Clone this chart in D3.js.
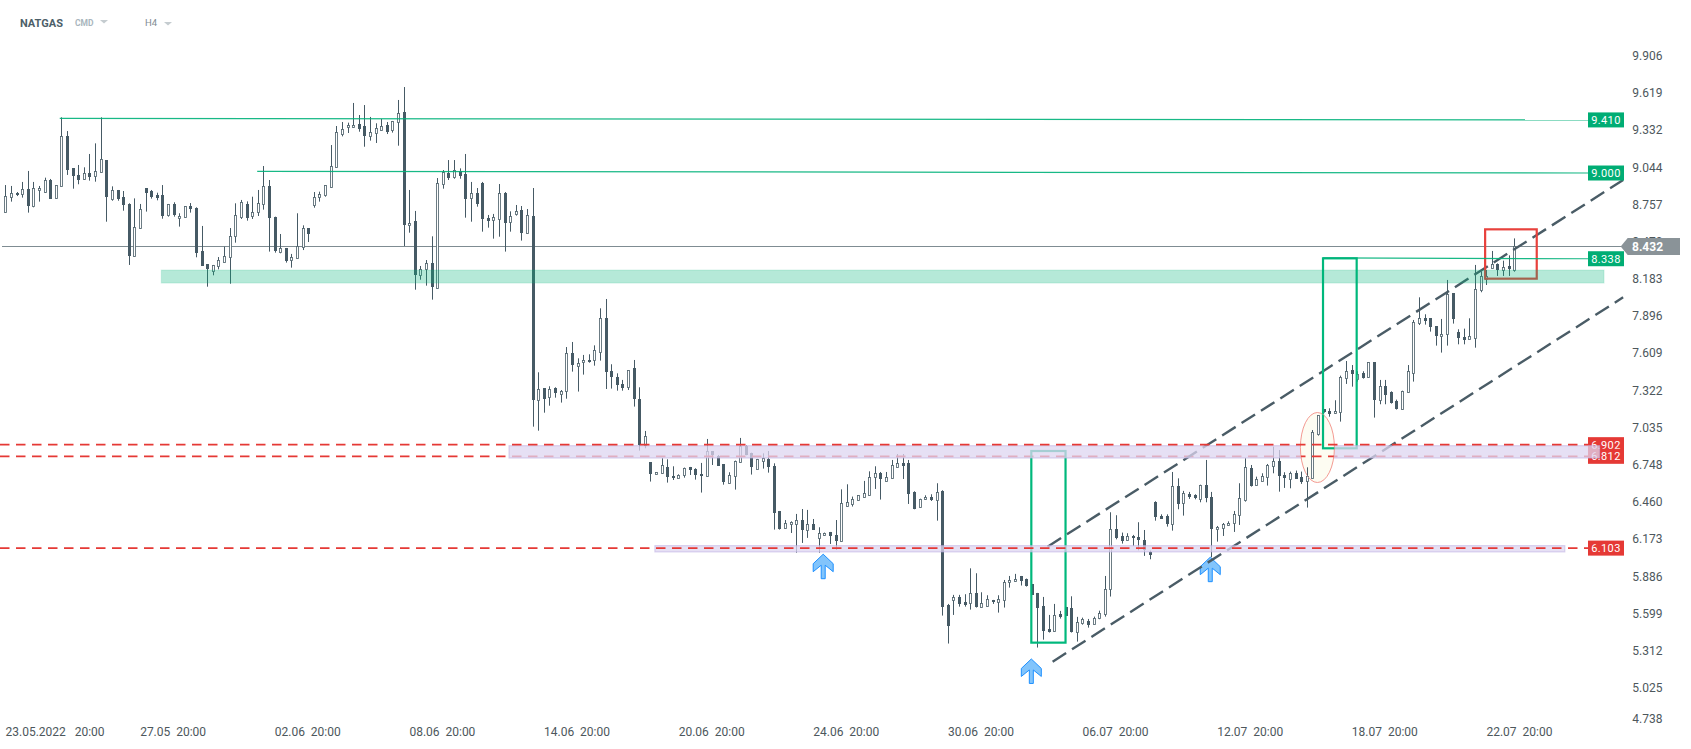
<!DOCTYPE html>
<html>
<head>
<meta charset="utf-8">
<script src="https://cdn.jsdelivr.net/npm/d3@7"></script>
<style>
  html, body { margin: 0; background: #fff; }
  svg { display: block; font-family: Roboto, sans-serif; }
  .tick text { white-space: pre; }
</style>
</head>
<body>
<div id="chart"></div>
<script>
// 4h candles
const opens = [
  8.696,8.812,8.843,8.833,8.874,8.740,8.866,8.851,8.946,8.802,
  8.897,9.286,9.036,8.985,8.949,8.998,8.974,9.005,9.100,8.797,
  8.869,8.815,8.761,8.354,8.570,8.884,8.861,8.830,8.830,8.671,
  8.761,8.650,8.658,8.745,8.730,8.398,8.295,8.238,8.277,8.315,
  8.349,8.508,8.663,8.761,8.663,8.696,8.758,8.897,8.660,8.385,
  8.421,8.326,8.339,8.426,8.575,8.756,8.810,8.825,8.887,9.041,
  9.304,9.350,9.350,9.376,9.363,9.281,9.304,9.327,9.371,9.327,
  9.389,9.473,8.593,8.627,8.215,8.256,8.303,8.107,8.913,8.997,
  8.964,9.018,8.990,8.802,8.843,8.920,8.650,8.632,8.640,8.843,
  8.616,8.678,8.712,8.532,8.666,7.242,7.337,7.265,7.337,7.296,
  7.312,7.608,7.512,7.535,7.553,7.551,7.615,7.878,7.471,7.422,
  7.371,7.342,7.492,7.252,6.894,6.766,6.673,6.678,6.727,6.658,
  6.650,6.663,6.727,6.712,6.673,6.655,6.851,6.817,6.750,6.601,
  6.658,6.766,6.892,6.835,6.717,6.779,6.789,6.735,6.390,6.254,
  6.287,6.285,6.318,6.238,6.290,6.182,6.202,6.225,6.202,6.153,
  6.429,6.439,6.470,6.493,6.508,6.647,6.681,6.617,6.640,6.730,
  6.761,6.761,6.537,6.416,6.478,6.496,6.470,6.545,5.664,5.698,
  5.723,5.685,5.677,5.754,5.646,5.654,5.700,5.682,5.698,5.837,
  5.844,5.888,5.862,5.826,5.757,5.656,5.476,5.458,5.592,5.649,
  5.638,5.453,5.520,5.541,5.520,5.559,5.590,5.785,6.249,6.197,
  6.164,6.194,6.187,6.164,6.073,6.460,6.351,6.349,6.285,6.581,
  6.449,6.519,6.511,6.485,6.588,6.496,6.249,6.254,6.277,6.292,
  6.354,6.475,6.720,6.586,6.622,6.655,6.732,6.774,6.668,6.640,
  6.686,6.652,6.617,6.645,6.985,7.175,7.162,7.142,7.152,7.412,
  7.476,7.415,7.453,7.420,7.538,7.242,7.355,7.306,7.237,7.173,
  7.304,7.453,7.837,7.878,7.878,7.816,7.736,7.752,8.071,7.770,
  7.731,7.716,7.723,8.097,8.187,8.266,8.297,8.251,8.279,8.251
];
const highs = [
  8.907,8.900,8.853,8.931,9.016,8.931,8.900,8.964,8.954,8.905,
  9.430,9.324,9.036,9.062,9.044,9.147,9.229,9.430,9.100,8.897,
  8.869,8.861,8.766,8.804,8.761,8.884,8.869,8.848,8.907,8.761,
  8.774,8.689,8.745,8.768,8.735,8.591,8.295,8.290,8.351,8.431,
  8.575,8.766,8.792,8.781,8.817,8.869,9.054,8.946,8.663,8.529,
  8.421,8.375,8.689,8.596,8.575,8.853,8.856,8.905,9.216,9.363,
  9.394,9.389,9.541,9.448,9.525,9.433,9.384,9.417,9.394,9.402,
  9.564,9.664,8.869,8.707,8.282,8.328,8.511,8.961,9.023,9.100,
  9.100,9.036,9.147,8.931,8.884,8.931,8.676,8.684,8.915,8.853,
  8.704,8.753,8.745,8.722,8.884,7.461,7.337,7.353,7.345,7.324,
  7.656,7.695,7.569,7.595,7.600,7.669,7.955,8.027,7.523,7.453,
  7.402,7.476,7.556,7.345,7.008,6.766,6.689,6.797,6.789,6.735,
  6.673,6.725,6.730,6.720,6.761,6.946,6.853,6.822,6.750,6.689,
  6.779,6.954,6.897,6.840,6.792,6.835,6.853,6.758,6.390,6.320,
  6.310,6.367,6.405,6.398,6.328,6.264,6.223,6.228,6.320,6.557,
  6.596,6.501,6.511,6.622,6.696,6.735,6.691,6.691,6.784,6.830,
  6.830,6.784,6.542,6.485,6.511,6.519,6.604,6.550,5.672,5.742,
  5.742,5.747,5.947,5.909,5.762,5.739,5.703,5.739,5.857,5.888,
  5.904,5.888,5.868,5.826,5.757,5.726,5.587,5.672,5.618,5.649,
  5.731,5.572,5.566,5.556,5.574,5.620,5.888,6.380,6.357,6.223,
  6.218,6.205,6.303,6.243,6.084,6.465,6.364,6.364,6.691,6.642,
  6.545,6.537,6.519,6.593,6.784,6.537,6.274,6.297,6.310,6.390,
  6.604,6.797,6.745,6.655,6.681,6.753,6.887,6.861,6.689,6.694,
  6.702,6.694,6.727,7.015,7.129,7.175,7.183,7.245,7.435,7.548,
  7.517,7.469,7.469,7.538,7.538,7.402,7.402,7.314,7.250,7.319,
  7.517,7.865,8.040,7.909,7.878,7.816,7.873,8.174,8.071,7.793,
  7.798,7.878,8.290,8.241,8.251,8.398,8.302,8.323,8.364,8.495
];
const lows = [
  8.696,8.779,8.822,8.810,8.694,8.735,8.779,8.846,8.802,8.802,
  8.897,8.985,8.879,8.913,8.946,8.941,8.933,9.003,8.624,8.786,
  8.786,8.709,8.290,8.354,8.570,8.702,8.802,8.789,8.647,8.663,
  8.663,8.586,8.655,8.694,8.349,8.285,8.122,8.210,8.256,8.315,
  8.145,8.462,8.645,8.632,8.645,8.668,8.717,8.393,8.385,8.380,
  8.308,8.269,8.339,8.405,8.467,8.732,8.779,8.817,8.887,9.041,
  9.283,9.309,9.350,9.319,9.203,9.250,9.232,9.327,9.301,9.312,
  9.211,8.436,8.539,8.099,8.176,8.130,8.022,8.107,8.879,8.946,
  8.956,8.956,8.655,8.624,8.740,8.547,8.578,8.493,8.508,8.393,
  8.547,8.671,8.478,8.532,7.041,7.010,7.149,7.203,7.265,7.227,
  7.257,7.466,7.312,7.443,7.535,7.512,7.551,7.332,7.335,7.319,
  7.319,7.324,7.196,6.856,6.874,6.617,6.673,6.678,6.609,6.629,
  6.647,6.647,6.668,6.632,6.532,6.655,6.745,6.740,6.593,6.601,
  6.555,6.763,6.820,6.671,6.717,6.717,6.686,6.246,6.246,6.254,
  6.220,6.068,6.143,6.182,6.243,6.068,6.197,6.135,6.089,6.153,
  6.424,6.424,6.470,6.493,6.508,6.560,6.478,6.617,6.640,6.725,
  6.637,6.444,6.403,6.416,6.475,6.467,6.315,5.582,5.366,5.587,
  5.651,5.651,5.628,5.644,5.644,5.651,5.672,5.605,5.644,5.798,
  5.844,5.814,5.806,5.744,5.335,5.396,5.451,5.458,5.559,5.582,
  5.451,5.381,5.512,5.489,5.520,5.554,5.574,5.729,6.171,6.138,
  6.161,6.120,6.086,6.043,6.017,6.315,6.331,6.269,6.238,6.403,
  6.354,6.483,6.480,6.457,6.457,6.032,6.153,6.197,6.274,6.228,
  6.282,6.462,6.578,6.586,6.622,6.586,6.681,6.539,6.568,6.565,
  6.637,6.599,6.416,6.642,6.972,7.149,7.118,7.139,7.080,7.371,
  7.350,7.389,7.412,7.420,7.111,7.214,7.214,7.219,7.173,7.173,
  7.304,7.389,7.826,7.829,7.775,7.667,7.613,7.667,7.837,7.677,
  7.677,7.716,7.651,8.079,8.135,8.264,8.205,8.205,8.205,8.238
];
const closes = [
  8.822,8.843,8.825,8.874,8.740,8.882,8.884,8.943,8.802,8.905,
  9.286,9.026,8.977,8.949,8.998,8.964,9.013,9.106,8.817,8.866,
  8.799,8.756,8.362,8.581,8.720,8.848,8.817,8.810,8.671,8.758,
  8.676,8.668,8.743,8.725,8.385,8.285,8.259,8.287,8.326,8.359,
  8.511,8.673,8.776,8.653,8.696,8.766,8.897,8.647,8.400,8.418,
  8.323,8.351,8.434,8.573,8.532,8.815,8.835,8.905,9.052,9.314,
  9.340,9.368,9.368,9.340,9.286,9.314,9.345,9.360,9.314,9.399,
  9.461,8.601,8.612,8.207,8.261,8.303,8.115,8.920,9.005,8.961,
  9.021,8.979,8.794,8.843,8.756,8.640,8.630,8.658,8.843,8.609,
  8.665,8.704,8.532,8.673,7.242,7.330,7.250,7.330,7.296,7.319,
  7.608,7.512,7.535,7.553,7.535,7.631,7.878,7.458,7.427,7.358,
  7.340,7.476,7.250,6.900,6.967,6.671,6.689,6.743,6.647,6.640,
  6.671,6.720,6.701,6.663,6.655,6.851,6.817,6.740,6.609,6.666,
  6.774,6.892,6.820,6.725,6.792,6.799,6.725,6.369,6.251,6.295,
  6.302,6.318,6.238,6.287,6.246,6.218,6.218,6.192,6.153,6.449,
  6.457,6.480,6.511,6.526,6.650,6.681,6.632,6.650,6.743,6.758,
  6.740,6.524,6.408,6.480,6.496,6.475,6.534,5.651,5.505,5.723,
  5.672,5.664,5.754,5.649,5.677,5.708,5.682,5.708,5.839,5.855,
  5.862,5.850,5.811,5.744,5.641,5.466,5.451,5.584,5.572,5.582,
  5.451,5.530,5.554,5.512,5.564,5.600,5.785,6.249,6.176,6.161,
  6.194,6.179,6.161,6.086,6.048,6.346,6.331,6.290,6.581,6.439,
  6.527,6.498,6.485,6.593,6.485,6.246,6.264,6.287,6.295,6.364,
  6.488,6.727,6.578,6.635,6.660,6.745,6.774,6.655,6.648,6.686,
  6.637,6.614,6.658,6.997,7.129,7.149,7.137,7.160,7.425,7.469,
  7.443,7.451,7.417,7.538,7.242,7.353,7.288,7.224,7.173,7.314,
  7.469,7.847,7.878,7.855,7.806,7.736,7.754,8.063,7.870,7.721,
  7.705,7.739,8.102,8.202,8.207,8.295,8.251,8.272,8.254,8.439
];

const priceTicks = [9.906,9.619,9.332,9.044,8.757,8.470,8.183,7.896,7.609,7.322,7.035,6.748,6.460,6.173,5.886,5.599,5.312,5.025,4.738];
const dateTicks = [6,30,54,78,102,126,150,174,198,222,246,270];
const dateLabels = ['23.05.2022   20:00','27.05  20:00','02.06  20:00','08.06  20:00','14.06  20:00','20.06  20:00','24.06  20:00','30.06  20:00','06.07  20:00','12.07  20:00','18.07  20:00','22.07  20:00'];

const lastPrice = 8.432;

// horizontal levels: price, the bar they start from, price at that bar (they run slightly off flat)
const greenLevels = [9.410, 9.000, 8.338];
const greenStarts = [9.7, 44.9, 234.9];
const greenStartPrices = [9.422, 9.013, 8.344];
// 6.812 runs under the purple zone, the other two over it
const redLevels = [6.902, 6.812, 6.103];
const redOverZones = [6.902, 6.103];
const redUnderZones = [6.812];

// shaded zones: [first bar, last bar, upper price, lower price]
const greenZones = [[27.8, 285, 8.251, 8.150]];
const purpleZones = [[89.8, 284.2, 6.894, 6.799], [115.8, 278, 6.122, 6.074]];

// dashed channel: [bar, price, bar, price]
const channels = [[185.8, 6.114, 288.4, 8.946], [186.7, 5.226, 288.4, 8.040]];

// boxes around the moves
const greenBoxes = [[182.9, 189, 6.853, 5.373], [234.9, 240.9, 8.341, 6.874]];
const redBoxes = [[263.8, 273, 8.565, 8.184]];

// arrow tips
const arrowBars = [145.8, 182.9, 214.8];
const arrowPrices = [6.056, 5.247, 6.033];

// breakout ellipse: centre bar, centre price
const ellipseBar = 233.9;
const ellipsePrice = 6.880;

const width = 1691;
const height = 749;

const svg = d3.select('#chart').append('svg')
  .attr('width', width)
  .attr('height', height)
  .style('background-color', '#fff');

const x = d3.scaleLinear().domain([0, 269]).range([5.33, 1514.3]);
const y = d3.scaleLinear().domain([9.906, 5.025]).range([55.7, 687.7]);

const candleColor = '#465a65';
const red = '#e53935';
const green = '#00b27a';

// axes
const yAxis = svg.append('g')
  .attr('transform', 'translate(1632.3,0)')
  .call(d3.axisRight(y).tickValues(priceTicks).tickFormat(d3.format('.3f')).tickSize(0).tickPadding(0));
yAxis.select('.domain').remove();
yAxis.selectAll('text').attr('font-size', 12).attr('font-family', 'Roboto').attr('fill', '#4d575c');
// bottom label sits higher than its real price
yAxis.selectAll('.tick').filter((d) => d === 4.738).select('text').attr('y', -6);

const xAxis = svg.append('g')
  .attr('transform', 'translate(-1,727.5)')
  .call(d3.axisBottom(x).tickValues(dateTicks).tickFormat((d, i) => dateLabels[i]).tickSize(0).tickPadding(0));
xAxis.select('.domain').remove();
xAxis.selectAll('text').attr('font-size', 12).attr('font-family', 'Roboto').attr('fill', '#4d575c');
xAxis.selectAll('.tick').filter((d) => d === dateTicks[0]).select('text')
  .attr('text-anchor', 'start')
  .attr('x', 6 - x(dateTicks[0]));

// last price line goes under the candles
svg.append('line')
  .attr('x1', 2).attr('x2', 1621)
  .attr('y1', Math.floor(y(lastPrice)) + 0.5).attr('y2', Math.floor(y(lastPrice)) + 0.5)
  .attr('stroke', '#7f8c92')
  .attr('stroke-width', 1);

// arrows lie under the candles and the channel
const arrowShape = 'M0,0 L10,9.5 L10,17.5 L2,11 L2,24.5 L-2,24.5 L-2,11 L-10,17.5 L-10,9.5 Z';
svg.selectAll('.arrow')
  .data(arrowBars)
  .enter()
  .append('path')
  .attr('class', 'arrow')
  .attr('d', arrowShape)
  .attr('transform', (d, i) => `translate(${x(d)},${y(arrowPrices[i])})`)
  .attr('fill', '#82c4fb')
  .attr('stroke', '#1e90ff')
  .attr('stroke-width', 1);

// everything in this group shows again through the ellipse
const marks = svg.append('g').attr('id', 'marks');

const bars = d3.range(opens.length);
const isUp = (i) => closes[i] >= opens[i];

const candles = marks.append('g');

candles.selectAll('line')
  .data(bars)
  .enter()
  .append('line')
  .attr('x1', (i) => Math.round(x(i)) + 0.5)
  .attr('x2', (i) => Math.round(x(i)) + 0.5)
  .attr('y1', (i) => y(highs[i]))
  .attr('y2', (i) => y(lows[i]))
  .attr('stroke', candleColor)
  .attr('stroke-width', 1);

candles.selectAll('rect')
  .data(bars)
  .enter()
  .append('rect')
  .attr('x', (i) => Math.round(x(i)) - (isUp(i) ? 0.5 : 1))
  .attr('y', (i) => Math.round(y(Math.max(opens[i], closes[i]))) + (isUp(i) ? 0.5 : 0))
  .attr('width', (i) => (isUp(i) ? 2 : 3))
  .attr('height', (i) => Math.max(1, Math.round(Math.abs(y(opens[i]) - y(closes[i])))))
  .attr('fill', (i) => (isUp(i) ? '#fff' : candleColor))
  .attr('stroke', (i) => (isUp(i) ? '#53666f' : 'none'))
  .attr('stroke-width', 0.85);

const drawRedLevel = (parent, d) => {
  parent.append('line')
    .attr('x1', 0).attr('x2', 1588)
    .attr('y1', y(d)).attr('y2', y(d))
    .attr('stroke', red)
    .attr('stroke-width', 1.7)
    .attr('stroke-dasharray', '9.5 6.5');
};
redUnderZones.forEach((d) => drawRedLevel(marks, d));

// green levels
greenLevels.forEach((d, i) => {
  svg.append('line')
    .attr('x1', x(greenStarts[i])).attr('x2', 1588)
    .attr('y1', y(greenStartPrices[i])).attr('y2', y(d))
    .attr('stroke', green)
    .attr('stroke-width', 1.2)
    .attr('opacity', 0.9);
});

// channel
channels.forEach((d) => {
  marks.append('line')
    .attr('x1', x(d[0])).attr('y1', y(d[1]))
    .attr('x2', x(d[2])).attr('y2', y(d[3]))
    .attr('stroke', '#4a5c66')
    .attr('stroke-width', 2.4)
    .attr('stroke-dasharray', '16 7');
});

// boxes
const drawBox = (d, color) => {
  marks.append('rect')
    .attr('x', x(d[0]))
    .attr('y', y(d[2]))
    .attr('width', x(d[1]) - x(d[0]))
    .attr('height', y(d[3]) - y(d[2]))
    .attr('fill', 'none')
    .attr('stroke', color)
    .attr('stroke-width', 2.2);
};
greenBoxes.forEach((d) => drawBox(d, '#00b87c'));
redBoxes.forEach((d) => drawBox(d, '#e8413c'));

// value tags
const drawTag = (price, color) => {
  svg.append('rect')
    .attr('x', 1588).attr('y', y(price) - 7.5)
    .attr('width', 36).attr('height', 15)
    .attr('fill', color);
  svg.append('text')
    .attr('x', 1606).attr('y', y(price))
    .attr('dy', '0.36em')
    .attr('text-anchor', 'middle')
    .attr('font-size', 11)
    .attr('letter-spacing', 0.35)
    .attr('fill', '#fff')
    .text(d3.format('.3f')(price));
};
greenLevels.forEach((d) => drawTag(d, '#00ad74'));
redLevels.forEach((d) => drawTag(d, red));

// current price flag
const flagY = y(lastPrice);
svg.append('path')
  .attr('d', `M1620.7,${flagY} L1627.7,${flagY - 8.5} H1680 V${flagY + 8.5} H1627.7 Z`)
  .attr('fill', '#8a9398');
svg.append('text')
  .attr('x', 1632).attr('y', flagY)
  .attr('dy', '0.36em')
  .attr('font-size', 12)
  .attr('font-weight', 700)
  .attr('fill', '#fff')
  .text(d3.format('.3f')(lastPrice));

// zones lie over everything drawn so far
const drawZone = (d, fill, stroke) => {
  svg.append('rect')
    .attr('x', x(d[0]))
    .attr('y', y(d[2]))
    .attr('width', x(d[1]) - x(d[0]))
    .attr('height', y(d[3]) - y(d[2]))
    .attr('fill', fill)
    .attr('stroke', stroke)
    .attr('stroke-width', 1.2);
};
greenZones.forEach((d) => drawZone(d, 'rgba(0,178,122,0.29)', 'rgba(0,178,122,0.12)'));
purpleZones.forEach((d) => drawZone(d, 'rgba(222,214,240,0.75)', 'rgba(190,175,225,0.55)'));

// breakout ellipse, with the marks showing through again
const ellipseAttrs = (sel) => sel
  .attr('cx', x(ellipseBar))
  .attr('cy', y(ellipsePrice))
  .attr('rx', 17)
  .attr('ry', 35);

svg.append('clipPath').attr('id', 'ellipse-clip').append('ellipse').call(ellipseAttrs);
svg.append('ellipse').call(ellipseAttrs)
  .attr('fill', '#fdfcf2')
  .attr('stroke', '#f49a92')
  .attr('stroke-width', 1);
svg.append('g')
  .attr('clip-path', 'url(#ellipse-clip)')
  .append('use')
  .attr('href', '#marks');

redOverZones.forEach((d) => drawRedLevel(svg, d));

// header
const header = svg.append('g');
header.append('text').attr('x', 20).attr('y', 27).attr('font-size', 11).attr('font-weight', 700).attr('fill', '#4d5f69').text('NATGAS');
header.append('text').attr('x', 75).attr('y', 26).attr('font-size', 8.5).attr('font-weight', 700).attr('fill', '#a9b6bd').text('CMD');
header.append('path').attr('d', 'M100,20 H108 L104,23.5 Z').attr('fill', '#c5ccd0');
header.append('text').attr('x', 145).attr('y', 26).attr('font-size', 9.5).attr('fill', '#7f8c92').text('H4');
header.append('path').attr('d', 'M164,22 H172 L168,25.5 Z').attr('fill', '#c5ccd0');
</script>
</body>
</html>
